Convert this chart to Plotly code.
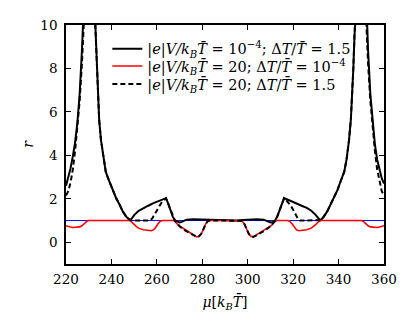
import plotly.graph_objects as go

# ---- data ----
solid_mu = [220, 221, 222, 223, 224, 225, 226, 227, 228, 229.5, 231, 232.3, 233, 233.5, 234, 234.6,
            235.4, 236.5, 237.5, 238.5, 239.3, 240.5, 242, 243.5, 245, 246.5, 247.5, 248.2, 249, 250,
            252, 254, 256, 258.5, 261, 264, 265, 266, 267, 268, 269, 270, 271, 272, 273, 276, 279,
            282, 285, 290, 295, 298, 301, 304, 307, 308, 309, 310, 311, 312, 313, 314, 315, 316,
            319, 321.5, 324, 326, 328, 330, 331, 331.8, 332.5, 333.5, 335, 336.5, 338, 339.5, 340.7,
            341.5, 342.5, 343.5, 344.6, 345.4, 346, 346.5, 347, 347.7, 349, 350.5, 352, 353, 354,
            355, 356, 357, 358, 359, 360]
solid_r = [2.6, 2.95, 3.4, 3.95, 4.6, 5.5, 6.8, 8.8, 11.8, 15, 15, 11.5, 9.5, 8.0, 6.7, 5.64,
           4.7, 3.8, 3.25, 2.95, 2.75, 2.4, 2.05, 1.75, 1.42, 1.18, 1.06, 1.02, 1.1, 1.25,
           1.45, 1.58, 1.67, 1.8, 1.9, 2.03, 1.78, 1.48, 1.18, 1.0, 0.94, 0.91, 0.94, 1.0, 1.04, 1.06, 1.05,
           1.02, 1.0, 1.0, 1.0, 1.02, 1.05, 1.06, 1.04, 1.0, 0.94, 0.91, 0.94, 1.0, 1.18, 1.48, 1.78, 2.03,
           1.9, 1.8, 1.67, 1.58, 1.45, 1.25, 1.1, 1.02, 1.06, 1.18, 1.42, 1.75, 2.05, 2.4, 2.75,
           2.95, 3.25, 3.8, 4.7, 5.64, 6.7, 8.0, 9.5, 11.5, 15, 15, 11.8, 8.8, 6.8,
           5.5, 4.5, 3.8, 3.3, 2.95, 2.7]

dashed_mu = [220, 221, 222, 223, 224, 225, 226, 227, 228, 229, 230.5, 232.3, 233, 233.5, 234, 234.6,
             235.4, 236.5, 237.5, 238.5, 239.3, 240.5, 242, 243.5, 245, 246.5, 247.5, 248.2, 250, 257,
             258, 259, 260, 261, 262, 263, 264, 265, 266, 267, 268, 269, 270, 272, 274, 276, 277.5,
             278.5, 279.5, 280.5, 281.5, 282.5, 283.5, 290, 296.5, 297.5, 298.5, 299.5, 300.5, 301.5,
             302.5, 304, 306, 308, 310, 311, 312, 313, 314, 315, 316, 317, 318, 319, 320, 321, 322,
             323, 330, 331.8, 332.5, 333.5, 335, 336.5, 338, 339.5, 340.7, 341.5, 342.5, 343.5,
             344.6, 345.4, 346, 346.5, 347, 347.7, 349.5, 351, 352, 353, 354, 355, 356, 357, 358,
             359, 360]
dashed_r = [2.15, 2.35, 2.75, 3.35, 4.2, 5.2, 6.5, 8.2, 10.3, 13, 16, 11.5, 9.5, 8.0, 6.7, 5.64,
            4.7, 3.8, 3.25, 2.95, 2.75, 2.4, 2.05, 1.75, 1.42, 1.18, 1.06, 1.02, 1.0, 1.0,
            1.1, 1.28, 1.5, 1.68, 1.82, 1.93, 2.03, 1.78, 1.48, 1.18, 0.98, 0.88, 0.74, 0.57, 0.45, 0.33, 0.25,
            0.27, 0.38, 0.6, 0.85, 0.98, 1.0, 1.0, 1.0, 0.98, 0.85, 0.6, 0.38, 0.27,
            0.25, 0.33, 0.45, 0.57, 0.74, 0.88, 0.98, 1.18, 1.48, 1.78, 2.03, 1.93, 1.82, 1.68, 1.5, 1.28, 1.1,
            1.0, 1.0, 1.02, 1.06, 1.18, 1.42, 1.75, 2.05, 2.4, 2.75, 2.95, 3.25, 3.8,
            4.7, 5.64, 6.7, 8.0, 9.5, 11.5, 16, 13, 10.3, 8.2, 6.5, 5.2, 4.2, 3.35, 2.75,
            2.35, 2.15]

red_mu = [220, 221, 222, 223, 224, 225, 226, 227, 228, 229, 230, 248, 249, 250, 251, 252, 254, 256,
          257.5, 258.5, 259.5, 260.5, 261.5, 262.5, 267.5, 268.5, 269.5, 271, 272.5, 274, 276, 277.5,
          278.5, 279.5, 280.5, 281.5, 282.5, 283.5, 290, 296.5, 297.5, 298.5, 299.5, 300.5, 301.5,
          302.5, 304, 306, 307.5, 309, 310.5, 311.5, 312.5, 317.5, 318.5, 319.5, 320.5, 321.5, 322.5,
          324, 326, 328, 329, 330, 331, 332, 350, 351, 352, 353, 354, 355, 356, 357, 358, 359, 360]
red_r = [0.76, 0.72, 0.7, 0.68, 0.68, 0.69, 0.71, 0.76, 0.86, 0.95, 1.0, 1.0, 0.93, 0.82, 0.72, 0.65, 0.58, 0.55,
         0.53, 0.57, 0.68, 0.85, 0.97, 1.0, 1.0, 0.9, 0.78, 0.68, 0.58, 0.48, 0.35, 0.25,
         0.27, 0.38, 0.6, 0.85, 0.98, 1.0, 1.0, 1.0, 0.98, 0.85, 0.6, 0.38, 0.27,
         0.25, 0.35, 0.48, 0.58, 0.68, 0.78, 0.9, 1.0, 1.0, 0.97, 0.85, 0.68, 0.57, 0.53,
         0.55, 0.58, 0.65, 0.72, 0.82, 0.93, 1.0, 1.0, 0.95, 0.86, 0.76, 0.71, 0.69, 0.68, 0.68, 0.7, 0.72, 0.76]

ref_mu = [220, 360]
ref_r = [1, 1]

x_ticks = [220, 240, 260, 280, 300, 320, 340, 360]
y_ticks = [0, 2, 4, 6, 8, 10]

lab1 = "<i>|e|V/k</i><sub><i>B</i></sub><i>T̄</i> = 10<sup>−4</sup>; Δ<i>T</i>/<i>T̄</i> = 1.5"
lab2 = "<i>|e|V/k</i><sub><i>B</i></sub><i>T̄</i> = 20; Δ<i>T</i>/<i>T̄</i> = 10<sup>−4</sup>"
lab3 = "<i>|e|V/k</i><sub><i>B</i></sub><i>T̄</i> = 20; Δ<i>T</i>/<i>T̄</i> = 1.5"

FONT = "DejaVu Serif"

fig = go.Figure()
fig.add_trace(go.Scatter(x=ref_mu, y=ref_r, mode="lines", line=dict(color="blue", width=1),
                         showlegend=False, hoverinfo="skip"))
fig.add_trace(go.Scatter(x=solid_mu, y=solid_r, mode="lines", name=lab1, legend="legend",
                         line=dict(color="black", width=2)))
fig.add_trace(go.Scatter(x=red_mu, y=red_r, mode="lines", name=lab2, legend="legend2",
                         line=dict(color="red", width=1.6)))
fig.add_trace(go.Scatter(x=dashed_mu, y=dashed_r, mode="lines", name=lab3, legend="legend3",
                         line=dict(color="black", width=2, dash="5px,3px")))

axis_common = dict(showline=True, linecolor="black", linewidth=1.5, mirror="allticks",
                   ticks="inside", ticklen=5, tickwidth=1, tickcolor="black",
                   showgrid=False, zeroline=False, automargin=False,
                   tickfont=dict(family=FONT, size=13.5, color="black"))

fig.update_xaxes(range=[220, 360], tickvals=x_ticks, ticktext=[str(v) for v in x_ticks],
                 ticklabelstandoff=2,
                 title=dict(text="<i>μ</i>[<i>k</i><sub><i>B</i></sub><i>T̄</i>]",
                            font=dict(family=FONT, size=14, color="black"), standoff=11),
                 **axis_common)
fig.update_yaxes(range=[-1, 10], tickvals=y_ticks, ticktext=[str(v) for v in y_ticks],
                 ticklabelstandoff=4,
                 title=dict(text="<i>r</i>", font=dict(family=FONT, size=14, color="black"), standoff=3),
                 **axis_common)

leg_common = dict(xanchor="left", yanchor="middle", bgcolor="rgba(0,0,0,0)", borderwidth=0,
                  font=dict(family=FONT, size=14.5, color="black"), itemwidth=30)

# page body has an 8px margin, so the figure is made 8px smaller on each axis
fig.update_layout(
    width=407, height=324,
    margin=dict(l=58, r=31, t=17, b=68, autoexpand=False),
    paper_bgcolor="white", plot_bgcolor="white",
    legend=dict(x=0.13, y=0.9, **leg_common),
    legend2=dict(x=0.13, y=0.828, **leg_common),
    legend3=dict(x=0.13, y=0.753, **leg_common),
    showlegend=True,
)

fig.write_html("out.html")
